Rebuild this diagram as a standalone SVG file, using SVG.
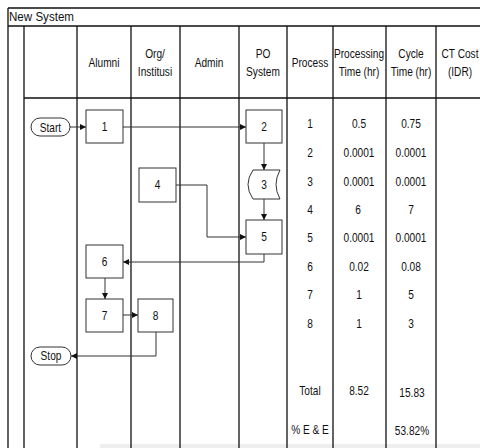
<svg xmlns="http://www.w3.org/2000/svg" width="480" height="448" viewBox="0 0 480 448">
<defs>
<style>
text{font-family:"Liberation Sans",Arial,sans-serif;fill:#111;text-anchor:middle;font-size:13px}
.grid{stroke:#111;stroke-width:1.3;fill:none}
.box{fill:#fff;stroke:#333;stroke-width:1}
.con{fill:none;stroke:#333;stroke-width:1}
</style>
<marker id="ah" viewBox="0 0 10 10" refX="10" refY="5" markerWidth="6" markerHeight="6" markerUnits="userSpaceOnUse" orient="auto">
<path d="M0,0 L10,5 L0,10 z" fill="#111"/>
</marker>
</defs>
<rect width="480" height="448" fill="#fff"/>
<rect x="100" y="444" width="380" height="4" fill="#eeeeee"/>
<g id="grid" class="grid">
<path d="M8,8 H480 M8,26 H480 M24,98 H480"/>
<path d="M8,8 V448 M24,26 V448 M77,26 V448 M131,26 V448 M180,26 V448 M239,26 V448 M287,26 V448 M333,26 V448 M386,26 V448 M436,26 V448"/>
</g>
<text x="9" y="21" style="text-anchor:start;font-size:13.5px" textLength="65" lengthAdjust="spacingAndGlyphs">New System</text>
<g id="headers" transform="scale(0.78,1)">
<text x="133.33" y="67">Alumni</text>
<text x="198.72" y="58">Org/</text>
<text x="198.72" y="76">Institusi</text>
<text x="267.95" y="67">Admin</text>
<text x="337.18" y="58">PO</text>
<text x="337.18" y="76">System</text>
<text x="397.44" y="67">Process</text>
<text x="460.26" y="58">Processing</text>
<text x="460.26" y="76">Time (hr)</text>
<text x="526.92" y="58">Cycle</text>
<text x="526.92" y="76">Time (hr)</text>
<text x="589.74" y="58">CT Cost</text>
<text x="589.74" y="76">(IDR)</text>
</g>
<g id="connectors">
<path class="con" d="M70,127 H86" marker-end="url(#ah)"/>
<path class="con" d="M123,127 H246" marker-end="url(#ah)"/>
<path class="con" d="M264,143 V170" marker-end="url(#ah)"/>
<path class="con" d="M264,199 V220" marker-end="url(#ah)"/>
<path class="con" d="M176,185 H207 V237 H246" marker-end="url(#ah)"/>
<path class="con" d="M264,254 V262 H123" marker-end="url(#ah)"/>
<path class="con" d="M105,278 V299" marker-end="url(#ah)"/>
<path class="con" d="M123,315 H138" marker-end="url(#ah)"/>
<path class="con" d="M156,332 V356 H71" marker-end="url(#ah)"/>
</g>
<g id="start"><rect class="box" x="31" y="118" width="39" height="18" rx="9"/><text transform="scale(0.78,1)" x="64.74" y="132">Start</text></g>
<g id="n1"><rect class="box" x="86" y="110" width="37" height="33"/><text transform="scale(0.78,1)" x="133.97" y="131.5">1</text></g>
<g id="n2"><rect class="box" x="246" y="110" width="36" height="33"/><text transform="scale(0.78,1)" x="338.46" y="131.5">2</text></g>
<g id="n3"><path class="box" d="M253,170 H280 Q272,184.5 280,199 H253 Q243,184.5 253,170 z"/><text transform="scale(0.78,1)" x="338.46" y="189.5">3</text></g>
<g id="n4"><rect class="box" x="139" y="168" width="37" height="34"/><text transform="scale(0.78,1)" x="201.92" y="189.5">4</text></g>
<g id="n5"><rect class="box" x="246" y="220" width="36" height="34"/><text transform="scale(0.78,1)" x="338.46" y="241.5">5</text></g>
<g id="n6"><rect class="box" x="86" y="245" width="37" height="33"/><text transform="scale(0.78,1)" x="133.97" y="266.5">6</text></g>
<g id="n7"><rect class="box" x="86" y="299" width="37" height="33"/><text transform="scale(0.78,1)" x="133.97" y="320.5">7</text></g>
<g id="n8"><rect class="box" x="138" y="299" width="35" height="33"/><text transform="scale(0.78,1)" x="199.36" y="320.5">8</text></g>
<g id="stop"><rect class="box" x="31" y="347" width="40" height="18" rx="9"/><text transform="scale(0.78,1)" x="65.38" y="360.5">Stop</text></g>
<g id="table" transform="scale(0.78,1)">
<text x="397.44" y="128">1</text><text x="460.26" y="128">0.5</text><text x="526.92" y="128">0.75</text>
<text x="397.44" y="157">2</text><text x="460.26" y="157">0.0001</text><text x="526.92" y="157">0.0001</text>
<text x="397.44" y="186">3</text><text x="460.26" y="186">0.0001</text><text x="526.92" y="186">0.0001</text>
<text x="397.44" y="214">4</text><text x="458.97" y="214">6</text><text x="526.92" y="214">7</text>
<text x="397.44" y="242">5</text><text x="460.26" y="242">0.0001</text><text x="526.92" y="242">0.0001</text>
<text x="397.44" y="271">6</text><text x="460.26" y="271">0.02</text><text x="526.92" y="271">0.08</text>
<text x="397.44" y="299">7</text><text x="460.26" y="299">1</text><text x="526.92" y="299">5</text>
<text x="397.44" y="328">8</text><text x="460.26" y="328">1</text><text x="526.92" y="328">3</text>
<text x="397.44" y="395">Total</text><text x="460.26" y="395">8.52</text><text x="528.21" y="397">15.83</text>
<text x="397.44" y="434">% E &amp; E</text><text x="528.21" y="435">53.82%</text>
</g>
</svg>
